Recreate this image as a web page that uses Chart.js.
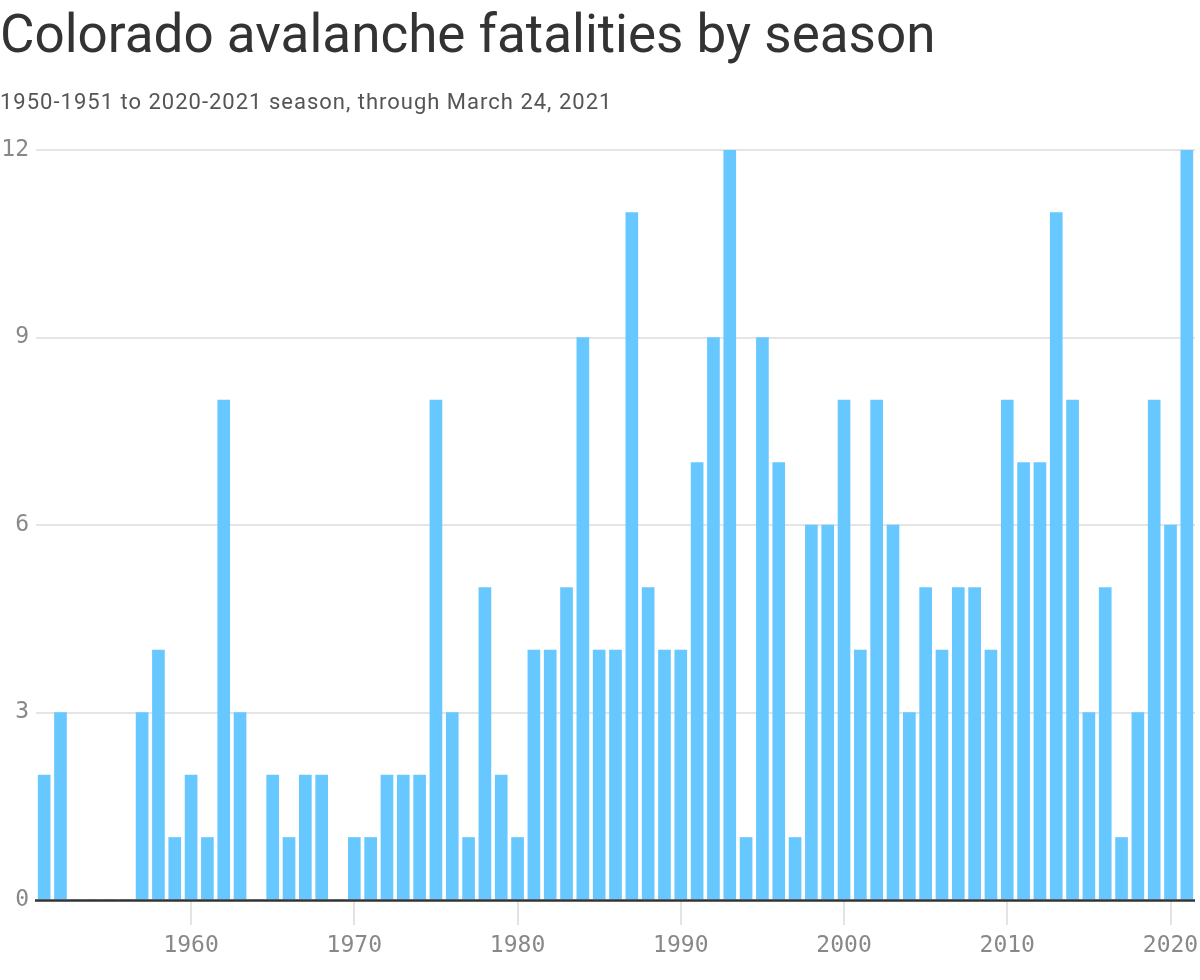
<!DOCTYPE html>
<html>
<head>
<meta charset="utf-8">
<script src="https://cdn.jsdelivr.net/npm/chart.js@4"></script>
<style>
  html, body { margin: 0; padding: 0; background: #fff; }
  #wrap { position: relative; width: 1200px; height: 980px; }
  h1 { position: absolute; left: 0; top: 3px; margin: 0; font-family: Roboto, sans-serif; font-weight: 400; font-size: 53px; color: #333; white-space: nowrap; }
  p { position: absolute; left: 0; top: 89px; margin: 0; font-family: Roboto, sans-serif; font-size: 22px; letter-spacing: 1px; color: #555; white-space: nowrap; }
  canvas { position: absolute; left: 0; top: 0; }
</style>
</head>
<body>
<div id="wrap">
  <canvas id="chart" width="1200" height="980"></canvas>
  <h1>Colorado avalanche fatalities by season</h1>
  <p>1950-1951 to 2020-2021 season, through March 24, 2021</p>
</div>
<script>
// season end years, 1951 .. 2021
const seasons = [];
for (let y = 1951; y <= 2021; y++) seasons.push(String(y));

const fatalities = [
  2, 3, 0, 0, 0, 0, 3, 4, 1, 2,   // 1951-1960
  1, 8, 3, 0, 2, 1, 2, 2, 0, 1,   // 1961-1970
  1, 2, 2, 2, 8, 3, 1, 5, 2, 1,   // 1971-1980
  4, 4, 5, 9, 4, 4, 11, 5, 4, 4,  // 1981-1990
  7, 9, 12, 1, 9, 7, 1, 6, 6, 8,  // 1991-2000
  4, 8, 6, 3, 5, 4, 5, 5, 4, 8,   // 2001-2010
  7, 7, 11, 8, 3, 5, 1, 3, 8, 6,  // 2011-2020
  12                              // 2021
];

const yTicks = [0, 3, 6, 9, 12];

const isDecade = (i) => Number(seasons[i]) % 10 === 0;
const tickFont = { family: '"DejaVu Sans Mono", monospace', size: 23 };

// dark zero line drawn over the bars
const baseline = {
  id: 'baseline',
  afterDatasetsDraw(chart) {
    const { ctx, chartArea } = chart;
    const y = chart.scales.y.getPixelForValue(0);
    ctx.save();
    ctx.strokeStyle = '#333';
    ctx.lineWidth = 2.5;
    ctx.beginPath();
    ctx.moveTo(chartArea.left - 1, y + 0.5);
    ctx.lineTo(chartArea.right, y + 0.5);
    ctx.stroke();
    ctx.restore();
  }
};

new Chart(document.getElementById('chart'), {
  type: 'bar',
  data: {
    labels: seasons,
    datasets: [{
      label: 'Fatalities',
      data: fatalities,
      backgroundColor: '#67c7ff',
      barThickness: 12
    }]
  },
  options: {
    responsive: false,
    animation: false,
    layout: { padding: { top: 150, left: 0, right: 5, bottom: 0 } },
    plugins: { legend: { display: false }, tooltip: { enabled: false } },
    scales: {
      x: {
        offset: true,
        grid: {
          offset: false,
          drawOnChartArea: false,
          drawTicks: true,
          tickLength: 25,
          lineWidth: 2,
          color: (ctx) => isDecade(ctx.index) ? '#e3e3e3' : 'rgba(0,0,0,0)'
        },
        border: { display: false },
        ticks: {
          autoSkip: false,
          maxRotation: 0,
          padding: 7,
          color: '#888',
          font: tickFont,
          callback: function (v, i) { return isDecade(i) ? seasons[i] : ''; }
        },
        afterFit: (s) => { s.height = 80; }
      },
      y: {
        min: 0,
        max: 12,
        afterBuildTicks: (s) => { s.ticks = yTicks.map(v => ({ value: v })); },
        grid: {
          drawTicks: false,
          lineWidth: 2,
          color: (ctx) => ctx.tick && ctx.tick.value === 0 ? 'rgba(0,0,0,0)' : '#e5e5e5'
        },
        border: { display: false },
        ticks: { padding: 7, color: '#888', font: tickFont },
        afterFit: (s) => { s.width = 36; }
      }
    }
  },
  plugins: [baseline]
});
</script>
</body>
</html>
